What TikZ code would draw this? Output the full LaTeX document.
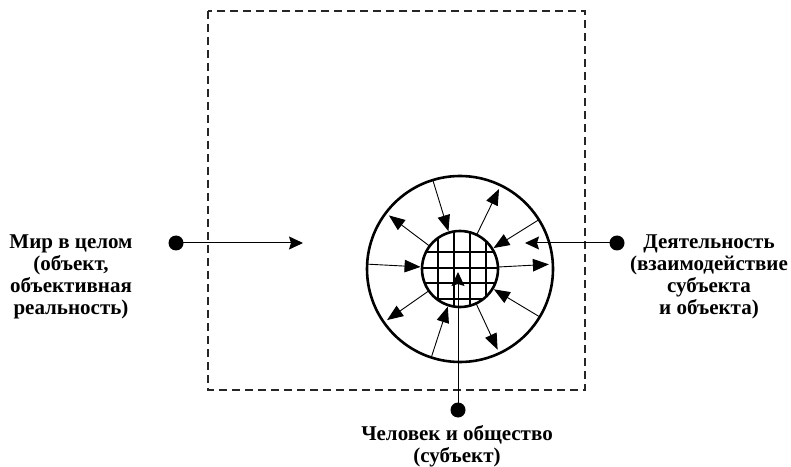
\documentclass[tikz,border=0pt]{standalone}
\usepackage{fontspec}
\setmainfont{Liberation Serif}
\usetikzlibrary{arrows.meta,calc}
\begin{document}
\begin{tikzpicture}[x=1pt,y=1pt,
 lbl/.style={font=\bfseries\fontsize{21}{22}\selectfont, align=center, inner sep=0pt},
 dotn/.style={circle,fill=black,minimum size=15pt,inner sep=0pt},
 conn/.style={line width=1pt,-{Stealth[length=14pt,width=13pt,inset=2pt]}},
 rarr/.style={line width=0.9pt,-{Triangle[length=16pt,width=12.5pt]}},
 ring/.style={circle,draw,line width=2.6pt,inner sep=0pt}]
\useasboundingbox (0,0) rectangle (791,466);
\draw[dash pattern=on 8pt off 5pt, line width=1.2pt, black!85] (208,455) rectangle (585,76);
\coordinate (c) at (460,197);
\begin{scope}
\clip (c) circle (38);
\foreach \x in {438,454,470,486} \draw[line width=1.6pt] (\x,150) -- (\x,250);
\foreach \y in {252,268,283,299} \draw[line width=1.6pt] (400,466-\y) -- (520,466-\y);
\end{scope}
\node[ring,minimum size=76pt] (inner) at (c) {};
\node[ring,minimum size=186pt] (outer) at (c) {};
\foreach \a in {107,32,-31,-108,177}
  \draw[rarr] ($(c)+(\a:92)$) -- ($(c)+(\a:39.5)$);
\foreach \a in {64,3,-65,-145,143}
  \draw[rarr] ($(c)+(\a:39)$) -- ($(c)+(\a:89)$);
% external connectors
\node[dotn] (dl) at (176,223) {};
\coordinate (tl) at (303,223);
\draw[conn] (dl.center) -- (tl);
\node[dotn] (dr) at (617,223) {};
\coordinate (tr) at (525,223);
\draw[conn] (dr.center) -- (tr);
\node[dotn] (db) at (458,56) {};
\coordinate (tb) at (458,194);
\draw[conn] (db.center) -- (tb);
% labels
\node[lbl] (L) at (71,189.5) {Мир в целом\\(объект,\\объективная\\реальность)};
\node[lbl] (R) at (709,189.5) {Деятельность\\(взаимодействие\\субъекта\\и объекта)};
\node[lbl] (B) at (457,20) {Человек и общество\\(субъект)};
\end{tikzpicture}
\end{document}
